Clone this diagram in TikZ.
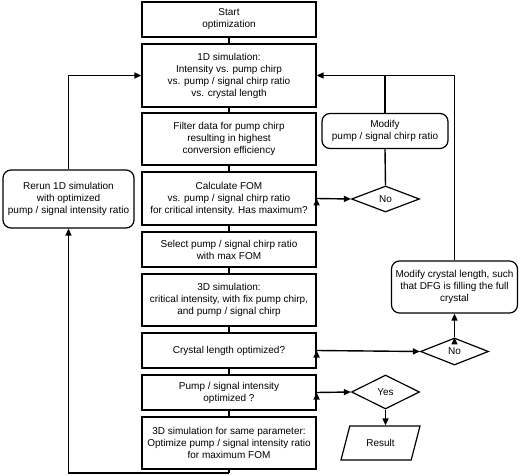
\documentclass[tikz,border=0pt]{standalone}
\usepackage{fontspec}
\setmainfont{Liberation Sans}
\usetikzlibrary{shapes.geometric,arrows.meta}

\tikzset{
    flow/.style={draw, line width=1.2pt, fill=white, align=center, inner sep=1pt,
        font=\fontsize{10pt}{12pt}\selectfont},
    stepbox/.style={flow, rectangle, minimum width=174pt},
    sidebox/.style={flow, rectangle, rounded corners=8pt},
    choice/.style={flow, diamond, aspect=2.6, inner sep=0pt, minimum width=68pt},
    link/.style={draw, line width=1.4pt},
    arrow/.style={link, -{Triangle[length=7pt,width=6pt]}}
}

\begin{document}
\begin{tikzpicture}[x=1pt,y=-1pt]
            \useasboundingbox (0,0) rectangle (520,476);
            \begin{scope}[every node/.append style={stepbox}]

                \node[minimum height=35pt] (start) at (229,19.5) {Start\\optimization};
                \node[minimum height=63pt] (sim1d) at (229,75.5) {1D simulation:\\Intensity vs. pump chirp\\vs. pump / signal chirp ratio\\vs. crystal length};
                \node[minimum height=52pt] (filter) at (229,139) {Filter data for pump chirp\\resulting in highest\\conversion efficiency};
                \node[minimum height=53pt] (calc) at (229,198.5) {Calculate FOM\\vs. pump / signal chirp ratio\\for critical intensity. Has maximum?};
                \node[minimum height=35pt] (select) at (229,249.5) {Select pump / signal chirp ratio\\with max FOM};
                \node[minimum height=52pt] (sim3d) at (229,300) {3D simulation:\\critical intensity, with fix pump chirp,\\and pump / signal chirp};
                \node[minimum height=35pt] (crystal) at (229,350.5) {Crystal length optimized?};
                \node[minimum height=35pt] (ratio) at (229,392.5) {Pump / signal intensity\\optimized ?};
                \node[minimum height=52pt] (same) at (229,443) {3D simulation for same parameter:\\Optimize pump / signal intensity ratio\\for maximum FOM};

            \end{scope}
            \node[sidebox, minimum width=131pt, minimum height=58pt] (rerun) at (68.5,199) {Rerun 1D simulation\\with optimized\\pump / signal intensity ratio};
            \node[sidebox, minimum width=126pt, minimum height=35pt] (modchirp) at (385,131) {Modify\\pump / signal chirp ratio};
            \node[sidebox, minimum width=126pt, minimum height=52pt] (modlength) at (454.5,287) {Modify crystal length, such\\that DFG is filling the full\\crystal};
            \node[choice, minimum height=26pt] (no1) at (385.5,199) {No};
            \node[choice, minimum height=27pt] (no2) at (454.5,351.5) {No};
            \node[choice, minimum height=34pt] (yes) at (385.5,392) {Yes};
            \node[flow, trapezium, trapezium left angle=65, trapezium right angle=115,
                trapezium stretches=true, minimum width=79pt, minimum height=34pt] (result) at (380.5,443) {Result};

            \coordinate (loopR) at (229,473);
            \coordinate (loopL) at (68.5,473);

            \path[link] (start) edge (sim1d);
            \path[link] (sim1d) edge (filter);
            \path[link] (filter) edge (calc);
            \path[link] (calc) edge (select);
            \path[link] (select) edge (sim3d);
            \path[link] (sim3d) edge (crystal);
            \path[link] (crystal) edge (ratio);
            \path[link] (ratio) edge (same);
            \path[link] (same) edge (loopR);
            \draw[arrow] (loopR) -- (loopL) -- (rerun.south);
            \draw[arrow] (rerun.north) |- (sim1d.west);
            \path[arrow] (calc.east) edge (no1.west);
            \path[link] (no1.north) edge (modchirp.south);
            \draw[link] (modchirp.north) -- (modchirp.north |- sim1d.east);
            \draw[arrow] (modlength.north) |- (sim1d.east);
            \path[arrow] (crystal.east) edge (no2.west);
            \path[arrow] (no2.north) edge (modlength.south);
            \path[arrow] (ratio.east) edge (yes.west);
            \draw[arrow] (yes.south) -- (yes.south |- result.north);
        \end{tikzpicture}
\end{document}
